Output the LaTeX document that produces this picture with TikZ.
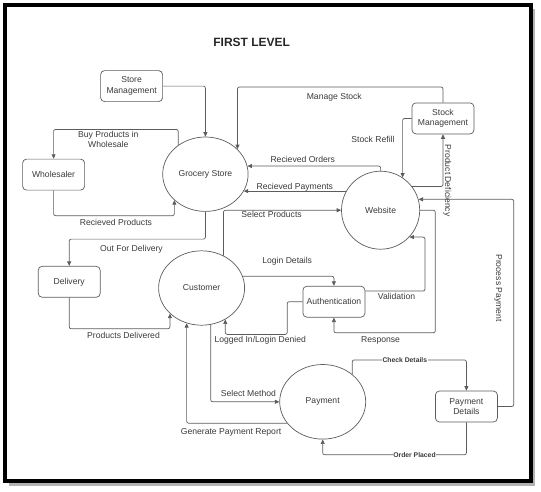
\documentclass[tikz,border=0pt]{standalone}
\usepackage{fontspec}
\setmainfont{Liberation Sans}
\usetikzlibrary{arrows.meta,shapes.geometric,calc}
\definecolor{edge}{HTML}{5C5C5C}
\definecolor{txt}{HTML}{3A3A3A}
\begin{document}
\begin{tikzpicture}[x=1pt,y=-1pt,
  every node/.style={font=\fontsize{8.6}{10.7}\selectfont, text=txt},
  box/.style={draw=edge, rounded corners=4pt, minimum width=62pt, minimum height=31pt, inner sep=1pt, align=center, line width=0.7pt},
  proc/.style={draw=edge, ellipse, inner sep=0pt, line width=0.7pt},
  flow/.style={draw=edge, line width=0.7pt, -{Triangle[width=4pt,length=4.5pt]}, rounded corners=2pt},
  lbl/.style={align=center, inner sep=1pt},
  blbl/.style={font=\fontsize{6.8}{8}\selectfont\bfseries, fill=white, inner sep=0.6pt},
]
\useasboundingbox (0,0) rectangle (541,491);
% frame
\draw[black!30, line width=3pt] (533.8,9) -- (533.8,484) -- (9,484);
\draw[black, line width=4pt] (4.9,5) rectangle (530.5,480.5);

\node[font=\fontsize{12}{14}\selectfont\bfseries, text=black!85] (title) at (251.7,42.5) {FIRST LEVEL};

% boxes
\node[box] (SM) at (131.6,86.1) {Store\\Management};
\node[box] (KM) at (443,118.4) {Stock\\Management};
\node[box] (W) at (53.6,174.6) {Wholesaler};
\node[box] (D) at (69.2,281.8) {Delivery};
\node[box] (A) at (333.9,301.7) {Authentication};
\node[box] (PD) at (466.4,406.5) {Payment\\Details};
% processes
\node[proc, minimum width=85.4pt, minimum height=74.4pt] (GS) at (205.4,174.2) {Grocery Store};
\node[proc, minimum width=78.2pt, minimum height=78pt] (WS) at (380.6,210.2) {Website};
\node[proc, minimum width=86pt, minimum height=74.4pt] (C) at (201.6,288) {Customer};
\node[proc, minimum width=86pt, minimum height=74.6pt] (P) at (322.7,401.8) {Payment};

% flows
\draw[flow] (SM.east) -| (GS.north);
\draw[flow] (GS.133) |- (W.north |- 0,129.4) -- (W.north);
\draw[flow] (W.south) |- (GS.220 |- 0,215.7) -- (GS.220);
\draw[flow] (GS.south) |- (D.north |- 0,239.1) -- (D.north);
\draw[flow] (D.south) |- (C.219 |- 0,328.8) -- (C.219);
\draw[flow] (WS.north) |- (GS.11);
\draw[flow] (WS.151) -- (WS.151 -| GS.336);
\draw[flow] (C.56) |- (WS.west);
\draw[flow] (KM.north) |- (GS.38 |- 0,87) -- (GS.38);
\draw[flow] (WS.37) -| (KM.south);
\draw[flow] (KM.west) -| (WS.56);
\draw[flow] (C.16) -| (A.north);
\draw[flow] (A.east |- 0,291) -| (WS.317 -| 425,0) -- (WS.317);
\draw[flow] (WS.east) -| (435.3,332.8) -| (A.south);
\draw[flow] (A.west) -| (287.2,334.4) -| (C.307);
\draw[flow] (C.284) |- (P.west);
\draw[flow] (P.211) -| (C.247);
\draw[flow] (P.43) |- (PD.north |- 0,359.9) -- (PD.north);
\draw[flow] (PD.south) |- (P.south |- 0,454.8) -- (P.south);
\draw[flow] (PD.east) -| (WS.16 -| 513.8,0) -- (WS.16);

% labels
\node[lbl] (l1) at (108.3,139.5) {Buy Products in\\Wholesale};
\node[lbl] (l2) at (115.9,222.4) {Recieved Products};
\node[lbl] (l3) at (131.5,249.5) {Out For Delivery};
\node[lbl] (l4) at (123.5,335.5) {Products Delivered};
\node[lbl] (l5) at (334.3,97.7) {Manage Stock};
\node[lbl] (l6) at (373,139.5) {Stock Refill};
\node[lbl] (l7) at (302.8,159.9) {Recieved Orders};
\node[lbl] (l8) at (294.8,187.3) {Recieved Payments};
\node[lbl] (l9) at (271.6,214.7) {Select Products};
\node[lbl, rotate=-90] (l10) at (447.4,180.6) {Product Deficiency};
\node[lbl, rotate=-90] (l11) at (498.3,288) {Process Payment};
\node[lbl] (l12) at (287.2,261.5) {Login Details};
\node[lbl] (l13) at (396.5,296.7) {Validation};
\node[lbl] (l14) at (260.2,340.1) {Logged In/Login Denied};
\node[lbl] (l15) at (380.6,340.1) {Response};
\node[lbl] (l16) at (248.4,393.6) {Select Method};
\node[lbl] (l17) at (231.1,432.8) {Generate Payment Report};
\node[blbl] (l18) at (404.8,359.9) {Check Details};
\node[blbl] (l19) at (414.5,454.8) {Order Placed};
\end{tikzpicture}
\end{document}
